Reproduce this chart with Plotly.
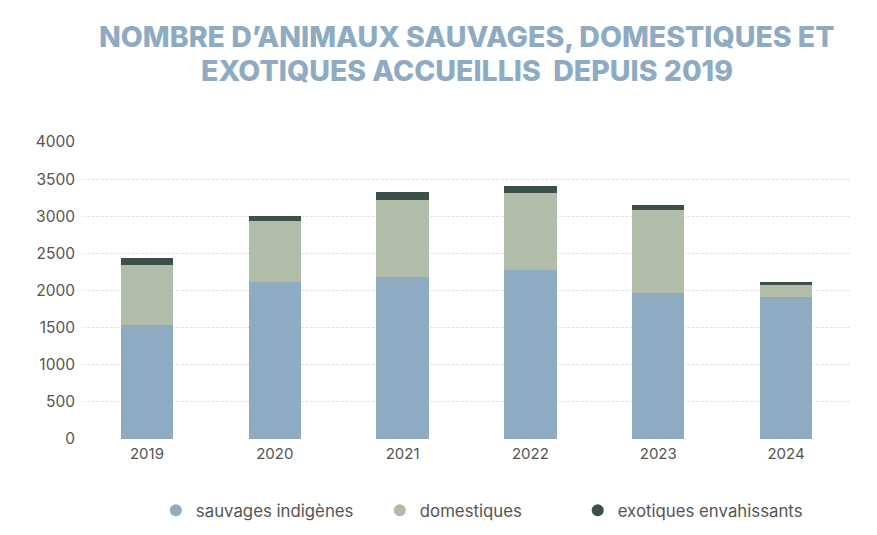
import plotly.graph_objects as go

years = ["2019", "2020", "2021", "2022", "2023", "2024"]
sauvages = [1535, 2110, 2183, 2272, 1964, 1914]
domestiques = [810, 820, 1038, 1043, 1118, 157]
exotiques = [98, 67, 99, 94, 76, 40]
series_names = ["sauvages indigènes", "domestiques", "exotiques envahissants"]
colors = ["#8eabc2", "#b1bca9", "#3a5049"]
yticks = [0, 500, 1000, 1500, 2000, 2500, 3000, 3500, 4000]
title_lines = ["NOMBRE D’ANIMAUX SAUVAGES, DOMESTIQUES ET",
               "EXOTIQUES ACCUEILLIS  DEPUIS 2019"]

fig = go.Figure()
for name, vals, col in zip(series_names, [sauvages, domestiques, exotiques], colors):
    fig.add_trace(go.Bar(x=years, y=vals, name=name, marker=dict(color=col, line=dict(width=0)),
                         showlegend=False))

legend_ids = ["legend", "legend2", "legend3"]
legend_x = [0.095, 0.387, 0.645]
for name, col, lid in zip(series_names, colors, legend_ids):
    fig.add_trace(go.Scatter(x=[None], y=[None], mode="markers", name=name,
                             marker=dict(symbol="circle", size=15, color=col),
                             legend=lid, showlegend=True))

legend_style = dict(orientation="h", yanchor="middle", y=-0.24, xanchor="left",
                    font=dict(family="Inter", size=16.8, color="#555555"),
                    bgcolor="rgba(0,0,0,0)", itemsizing="constant")
layout_legends = {}
for lid, lx in zip(legend_ids, legend_x):
    d = dict(legend_style)
    d["x"] = lx
    layout_legends[lid] = d

# page body has an 8px margin; plot area (page coords) 83..850 x 142..439
title_y = [(439 - 37) / 297, (439 - 70) / 297]
annotations = [dict(text=t, xref="paper", yref="paper", x=0.5, y=ty,
                    xanchor="center", yanchor="middle", showarrow=False,
                    font=dict(family="Inter", size=28.5, color="#8fabc3", weight=800))
               for t, ty in zip(title_lines, title_y)]

fig.update_layout(
    barmode="stack",
    bargap=0.59,
    width=877, height=535,
    paper_bgcolor="white", plot_bgcolor="white",
    margin=dict(l=75, r=35, t=134, b=104, autoexpand=False),
    annotations=annotations,
    xaxis=dict(type="category", showgrid=False, showline=False, ticks="",
               ticklabelstandoff=4,
               tickfont=dict(family="Inter", size=15, color="#555555")),
    yaxis=dict(range=[0, 4000], tickvals=yticks, showgrid=True, gridcolor="#d4d4d4",
               griddash="1px,1.5px", gridwidth=1, zeroline=False, showline=False, ticks="",
               ticklabelstandoff=7,
               tickfont=dict(family="Inter", size=15.5, color="#555555")),
    **layout_legends,
)

fig.write_html("out.html")
